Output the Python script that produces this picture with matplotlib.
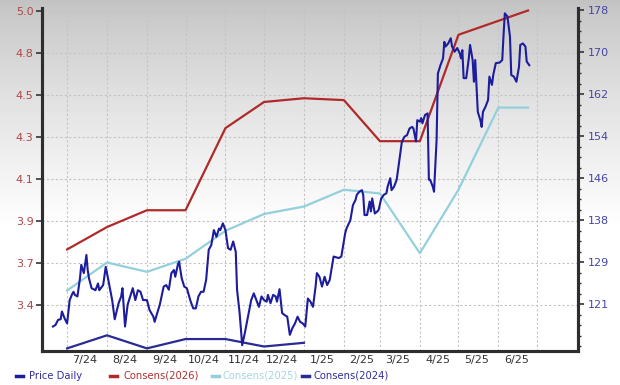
import numpy as np
import pandas as pd
import matplotlib
matplotlib.use("Agg")
import matplotlib.pyplot as plt
import matplotlib.dates as mdates
from matplotlib.lines import Line2D
from matplotlib.ticker import AutoMinorLocator, FixedLocator, FuncFormatter

# precio diario (eje derecho)
price_dates = [
    '2024-06-20', '2024-06-22', '2024-06-24', '2024-06-26', '2024-06-27', '2024-06-29',
    '2024-07-01', '2024-07-03', '2024-07-05', '2024-07-06', '2024-07-07', '2024-07-09',
    '2024-07-11', '2024-07-12', '2024-07-14', '2024-07-16', '2024-07-17', '2024-07-18',
    '2024-07-20', '2024-07-23', '2024-07-25', '2024-07-26', '2024-07-29', '2024-07-31',
    '2024-08-02', '2024-08-05', '2024-08-07', '2024-08-10', '2024-08-12', '2024-08-13',
    '2024-08-15', '2024-08-17', '2024-08-19', '2024-08-21', '2024-08-23', '2024-08-25',
    '2024-08-27', '2024-08-29', '2024-09-01', '2024-09-03', '2024-09-06', '2024-09-07',
    '2024-09-09', '2024-09-11', '2024-09-14', '2024-09-16', '2024-09-18', '2024-09-20',
    '2024-09-22', '2024-09-23', '2024-09-25', '2024-09-26', '2024-09-28', '2024-09-30',
    '2024-10-02', '2024-10-05', '2024-10-07', '2024-10-09', '2024-10-11', '2024-10-13',
    '2024-10-15', '2024-10-17', '2024-10-19', '2024-10-21', '2024-10-23', '2024-10-25',
    '2024-10-27', '2024-10-28', '2024-10-30', '2024-11-01', '2024-11-03', '2024-11-05',
    '2024-11-07', '2024-11-09', '2024-11-10', '2024-11-12', '2024-11-14', '2024-11-16',
    '2024-11-19', '2024-11-21', '2024-11-23', '2024-11-25', '2024-11-27', '2024-11-29',
    '2024-12-01', '2024-12-03', '2024-12-04', '2024-12-06', '2024-12-08', '2024-12-10',
    '2024-12-11', '2024-12-13', '2024-12-15', '2024-12-17', '2024-12-19', '2024-12-21',
    '2024-12-23', '2024-12-25', '2024-12-27', '2024-12-29', '2024-12-31', '2025-01-02',
    '2025-01-04', '2025-01-06', '2025-01-08', '2025-01-10', '2025-01-11', '2025-01-13',
    '2025-01-15', '2025-01-17', '2025-01-19', '2025-01-21', '2025-01-24', '2025-01-28',
    '2025-01-30', '2025-02-02', '2025-02-03', '2025-02-06', '2025-02-08', '2025-02-10',
    '2025-02-11', '2025-02-13', '2025-02-15', '2025-02-16', '2025-02-17', '2025-02-19',
    '2025-02-21', '2025-02-22', '2025-02-23', '2025-02-25', '2025-02-27', '2025-02-28',
    '2025-03-02', '2025-03-04', '2025-03-06', '2025-03-07', '2025-03-09', '2025-03-10',
    '2025-03-12', '2025-03-14', '2025-03-17', '2025-03-18', '2025-03-20', '2025-03-22',
    '2025-03-24', '2025-03-26', '2025-03-27', '2025-03-29', '2025-03-30', '2025-04-01',
    '2025-04-02', '2025-04-03', '2025-04-05', '2025-04-07', '2025-04-08', '2025-04-09',
    '2025-04-11', '2025-04-12', '2025-04-14', '2025-04-15', '2025-04-17', '2025-04-19',
    '2025-04-20', '2025-04-21', '2025-04-23', '2025-04-25', '2025-04-26', '2025-04-28',
    '2025-04-30', '2025-05-02', '2025-05-03', '2025-05-04', '2025-05-05', '2025-05-07',
    '2025-05-09', '2025-05-10', '2025-05-12', '2025-05-13', '2025-05-14', '2025-05-15',
    '2025-05-16', '2025-05-18', '2025-05-19', '2025-05-20', '2025-05-22', '2025-05-24',
    '2025-05-25', '2025-05-27', '2025-05-28', '2025-05-30', '2025-06-02', '2025-06-04',
    '2025-06-05', '2025-06-06', '2025-06-08', '2025-06-10', '2025-06-11', '2025-06-13',
    '2025-06-15', '2025-06-17', '2025-06-18', '2025-06-20', '2025-06-22', '2025-06-23',
    '2025-06-25',
]
price_values = [
    117.1, 117.4, 118.4, 118.5, 120.0, 118.7,
    117.7, 122.2, 123.4, 123.8, 123.2, 122.9,
    126.4, 129.0, 127.4, 130.9, 128.0, 126.4,
    124.5, 124.1, 125.4, 124.1, 125.1, 128.6,
    126.1, 122.2, 118.5, 121.6, 122.9, 124.5,
    117.1, 121.3, 122.9, 124.5, 122.2, 124.1,
    123.8, 122.2, 122.2, 120.3, 119.0, 118.0,
    119.7, 121.3, 124.8, 125.1, 124.2, 127.4,
    128.0, 126.7, 129.0, 129.6, 126.4, 124.8,
    124.5, 121.9, 120.6, 120.6, 122.9, 123.8,
    123.8, 126.1, 131.9, 132.8, 135.7, 134.4,
    136.0, 135.7, 137.0, 135.7, 132.2, 131.9,
    133.5, 131.5, 124.2, 119.7, 113.5, 115.8,
    119.7, 122.2, 123.5, 122.2, 120.9, 122.9,
    122.2, 121.9, 123.2, 121.6, 123.2, 122.9,
    121.9, 124.3, 119.7, 119.3, 119.0, 115.5,
    116.8, 117.7, 119.0, 118.0, 117.7, 117.1,
    122.5, 121.9, 120.9, 124.8, 127.4, 126.7,
    124.8, 126.7, 125.1, 126.1, 130.6, 130.3,
    130.6, 135.1, 136.0, 137.6, 140.5, 141.5,
    142.5, 143.1, 143.4, 142.5, 138.6, 138.6,
    141.2, 139.3, 141.8, 138.9, 139.3, 139.6,
    141.8, 142.5, 142.8, 144.1, 145.7, 143.4,
    144.1, 145.4, 150.8, 152.7, 153.7, 154.0,
    155.3, 155.6, 155.3, 152.8, 156.9, 156.6,
    157.3, 156.3, 157.9, 158.2, 145.4, 145.4,
    144.1, 143.1, 153.1, 165.9, 167.5, 168.8,
    172.0, 171.1, 171.7, 172.7, 171.1, 170.1,
    170.8, 169.8, 168.8, 170.4, 165.0, 165.0,
    168.8, 171.4, 168.5, 164.3, 168.5, 163.4,
    158.5, 156.9, 155.6, 158.5, 159.5, 160.8,
    165.3, 163.7, 165.6, 167.9, 168.0, 168.5,
    173.3, 177.5, 176.9, 173.0, 165.6, 165.3,
    164.3, 167.2, 171.4, 171.7, 171.1, 168.2,
    167.5,
]

# consensos de EPS (eje izquierdo)
cons_dates_2026 = ['2024-07-01', '2024-08-01', '2024-09-01', '2024-10-01', '2024-11-01',
                   '2024-12-01', '2025-01-01', '2025-02-01', '2025-03-01', '2025-04-01',
                   '2025-05-01', '2025-06-24']
cons_2026 = [3.72, 3.84, 3.93, 3.93, 4.37, 4.51, 4.53, 4.52, 4.30, 4.30, 4.87, 5.00]

cons_dates_2025 = ['2024-07-01', '2024-08-01', '2024-09-01', '2024-10-01', '2024-11-01',
                   '2024-12-01', '2025-01-01', '2025-02-01', '2025-03-01', '2025-04-01',
                   '2025-05-01', '2025-06-01', '2025-06-24']
cons_2025 = [3.50, 3.65, 3.60, 3.67, 3.82, 3.91, 3.95, 4.04, 4.02, 3.70, 4.04, 4.48, 4.48]

cons_dates_2024 = ['2024-07-01', '2024-08-01', '2024-09-01', '2024-10-01', '2024-11-01',
                   '2024-12-01', '2025-01-01']
cons_2024 = [3.19, 3.26, 3.19, 3.24, 3.24, 3.20, 3.22]

# ticks con etiquetas redondeadas como en el original
left_ticks = [3.425, 3.65, 3.875, 4.1, 4.325, 4.55, 4.775, 5.0]
left_labels = ['3.4', '3.7', '3.9', '4.1', '4.3', '4.5', '4.8', '5.0']
right_ticks = [121.35, 129.45, 137.55, 145.65, 153.75, 161.85, 169.95, 178.05]
right_labels = ['121', '129', '138', '146', '154', '162', '170', '178']
month_ticks = ['2024-07-15', '2024-08-15', '2024-09-15', '2024-10-15', '2024-11-15',
               '2024-12-15', '2025-01-15', '2025-02-15', '2025-03-15', '2025-04-15',
               '2025-05-15', '2025-06-15']
month_labels = ['7/24', '8/24', '9/24', '10/24', '11/24', '12/24',
                '1/25', '2/25', '3/25', '4/25', '5/25', '6/25']

c_price = '#1c1c9c'
c_2026 = '#b02a2a'
c_2025 = '#93d0dc'
c_2024 = '#2a2a96'

fig = plt.figure(figsize=(6.2, 3.85), dpi=100)

# fondo degradado gris -> blanco
bg = fig.add_axes([0, 0, 1, 1], zorder=-10)
grad = np.clip(np.linspace(0, 1, 385) / 0.6, 0, 1)
grad = 0.76 + 0.24 * grad ** 0.8
bg.imshow(np.tile(grad[:, None], (1, 10)), cmap='gray', vmin=0, vmax=1,
          aspect='auto', extent=[0, 1, 0, 1], origin='upper')
bg.axis('off')

ax = fig.add_axes([42 / 620, 1 - 351 / 385, 536 / 620, 343 / 385])
ax.patch.set_visible(False)
ax2 = ax.twinx()

d = lambda lst: pd.to_datetime(lst)

ax.plot(d(cons_dates_2026), cons_2026, color=c_2026, lw=1.6)
ax.plot(d(cons_dates_2025), cons_2025, color=c_2025, lw=1.6)
ax.plot(d(cons_dates_2024), cons_2024, color=c_2024, lw=1.6)
ax2.plot(d(price_dates), price_values, color=c_price, lw=1.5)

ax.set_xlim(pd.Timestamp('2024-06-11 12:00'), pd.Timestamp('2025-08-01 20:00'))
ax.set_ylim(3.176, 5.0134)
ax2.set_ylim(112.38, 178.53)

ax.yaxis.set_major_locator(FixedLocator(left_ticks))
ax.set_yticklabels(left_labels)
ax2.yaxis.set_major_locator(FixedLocator(right_ticks))
ax2.set_yticklabels(right_labels)
ax2.yaxis.set_minor_locator(AutoMinorLocator(4))

# líneas de mes en el 1, etiquetas a mitad de mes
ax.xaxis.set_major_locator(mdates.MonthLocator())
ax.xaxis.set_major_formatter(FuncFormatter(lambda v, p: ''))
ax.set_xticks(mdates.date2num(d(month_ticks)), labels=month_labels, minor=True)

ax.grid(True, which='major', color='#c4c4c4', linestyle=(0, (2, 2)), linewidth=0.8)
ax.tick_params(axis='x', which='both', length=0, pad=3, labelsize=8, labelcolor='#333333')
ax.tick_params(axis='y', which='major', length=4, width=1.2, color='#333333',
               labelsize=8, labelcolor='#b04545', pad=2)
ax2.tick_params(axis='y', which='major', length=4, width=1.2, color='#333333',
                labelsize=8, labelcolor='#4545a5', pad=3)
ax2.tick_params(axis='y', which='minor', length=2.5, width=1.0, color='#333333')

for a in (ax, ax2):
    a.spines['top'].set_visible(False)
    for s in ('left', 'right', 'bottom'):
        a.spines[s].set_color('#2e2e2e')
        a.spines[s].set_linewidth(2.2)

# leyenda abajo, a mano para clavar las posiciones
names = ['Price Daily', 'Consens(2026)', 'Consens(2025)', 'Consens(2024)']
line_cols = [c_price, c_2026, c_2025, c_2024]
text_cols = ['#3030a0', '#b03030', '#a6d6e2', '#3030a0']
handle_x = [16, 110, 212, 302]
text_x = [29, 123, 222, 314]
ly = 1 - 376 / 385
for n, lc, tc, hx, tx in zip(names, line_cols, text_cols, handle_x, text_x):
    fig.add_artist(Line2D([hx / 620, (hx + 7) / 620], [ly, ly], color=lc, lw=2.5))
    fig.text(tx / 620, ly, n, color=tc, fontsize=7.2, va='center', ha='left')

fig.savefig('out.png', dpi=100)
